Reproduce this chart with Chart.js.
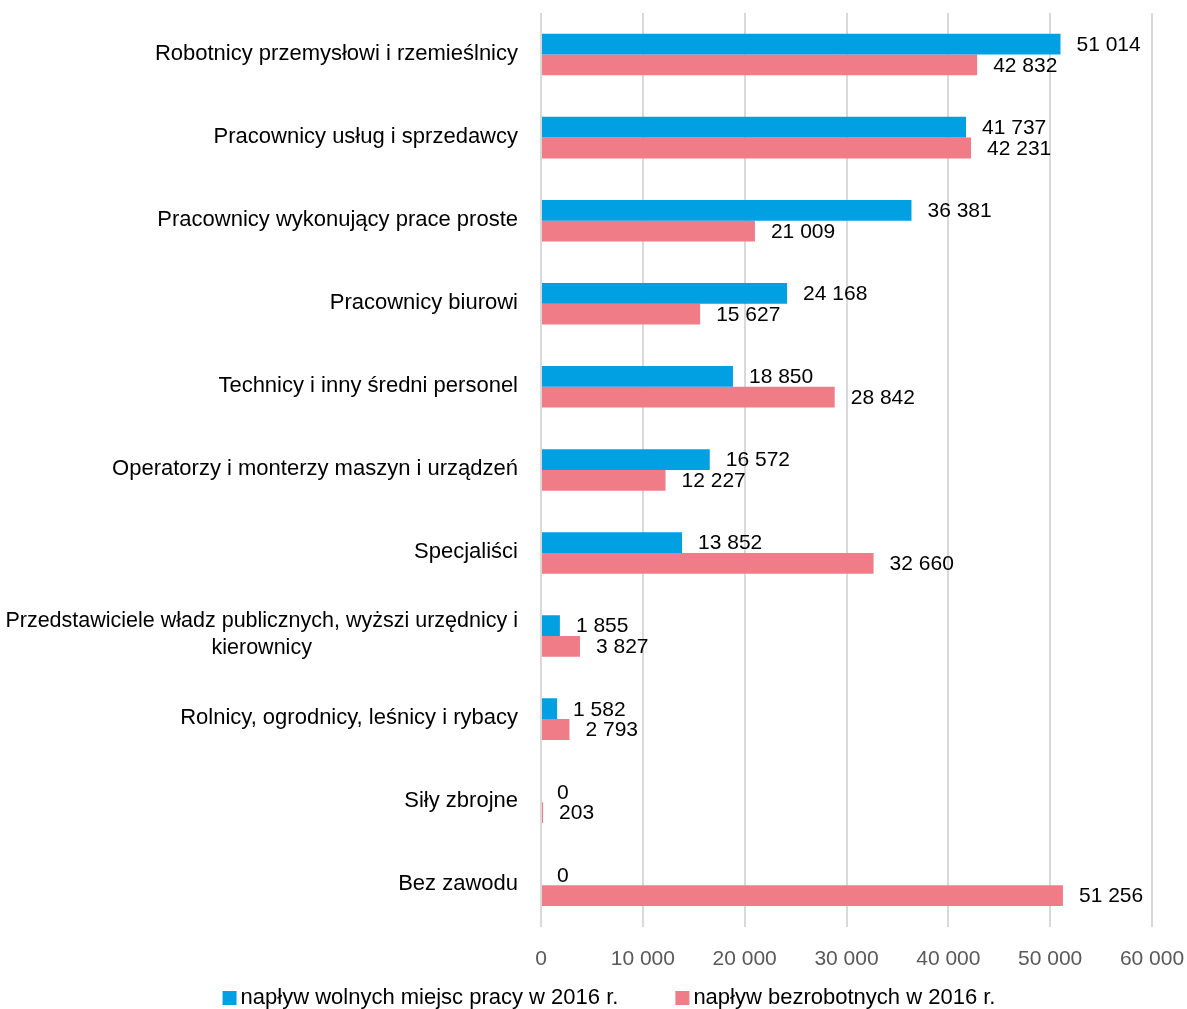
<!DOCTYPE html>
<html>
<head>
<meta charset="utf-8">
<script src="https://cdn.jsdelivr.net/npm/chart.js@4.4.1/dist/chart.umd.min.js"></script>
<style>
  body { margin: 0; background: #fff; }
  #wrap { width: 1187px; height: 1009px; position: relative; }
</style>
</head>
<body>
<div id="wrap"><canvas id="chart"></canvas></div>
<script>
// categories (top to bottom)
const categories = [
  ['Robotnicy przemysłowi i rzemieślnicy'],
  ['Pracownicy usług i sprzedawcy'],
  ['Pracownicy wykonujący prace proste'],
  ['Pracownicy biurowi'],
  ['Technicy i inny średni personel'],
  ['Operatorzy i monterzy maszyn i urządzeń'],
  ['Specjaliści'],
  ['Przedstawiciele władz publicznych, wyższi urzędnicy i', 'kierownicy'],
  ['Rolnicy, ogrodnicy, leśnicy i rybacy'],
  ['Siły zbrojne'],
  ['Bez zawodu']
];

const seriesNames = ['napływ wolnych miejsc pracy w 2016 r.', 'napływ bezrobotnych w 2016 r.'];
const vacancies = [51014, 41737, 36381, 24168, 18850, 16572, 13852, 1855, 1582, 0, 0];
const unemployed = [42832, 42231, 21009, 15627, 28842, 12227, 32660, 3827, 2793, 203, 51256];
const xTicks = [0, 10000, 20000, 30000, 40000, 50000, 60000];

const colors = ['#00A0E2', '#F07C88'];
const FONT = '"Liberation Sans", Arial, sans-serif';

// "51014" -> "51 014"
function fmt(v) {
  return String(v).replace(/\B(?=(\d{3})+(?!\d))/g, ' ');
}

// value labels at the end of every bar
const valueLabels = {
  id: 'valueLabels',
  afterDatasetsDraw(chart) {
    const ctx = chart.ctx;
    ctx.save();
    ctx.font = '21px ' + FONT;
    ctx.fillStyle = '#000';
    ctx.textAlign = 'left';
    ctx.textBaseline = 'middle';
    chart.data.datasets.forEach((ds, di) => {
      chart.getDatasetMeta(di).data.forEach((bar, i) => {
        ctx.fillText(fmt(ds.data[i]), bar.x + 16, bar.y + 1);
      });
    });
    ctx.restore();
  }
};

// category labels, second line centred under the first like in the original
const categoryLabels = {
  id: 'categoryLabels',
  afterDraw(chart) {
    const ctx = chart.ctx;
    const y = chart.scales.y;
    const right = chart.chartArea.left - 23;
    ctx.save();
    ctx.fillStyle = '#000';
    ctx.textBaseline = 'middle';
    categories.forEach((lines, i) => {
      const cy = y.getPixelForValue(i) - 1;
      if (lines.length === 1) {
        ctx.font = '22px ' + FONT;
        ctx.textAlign = 'right';
        ctx.fillText(lines[0], right, cy);
      } else {
        ctx.font = '21.5px ' + FONT;
        const w = Math.max(...lines.map(l => ctx.measureText(l).width));
        const lh = 27;
        ctx.textAlign = 'center';
        lines.forEach((l, k) => {
          ctx.fillText(l, right - w / 2, cy + (k - (lines.length - 1) / 2) * lh);
        });
      }
    });
    ctx.restore();
  }
};

// legend at the bottom
const bottomLegend = {
  id: 'bottomLegend',
  afterDraw(chart) {
    const ctx = chart.ctx;
    ctx.save();
    ctx.font = '22px ' + FONT;
    ctx.textBaseline = 'middle';
    ctx.textAlign = 'left';
    const box = 14, gap = 4, itemGap = 57;
    const widths = chart.data.datasets.map(d => box + gap + ctx.measureText(d.label).width);
    const total = widths.reduce((a, b) => a + b, 0) + itemGap * (widths.length - 1);
    let x = 609 - total / 2;
    const cy = 998;
    chart.data.datasets.forEach((d, i) => {
      ctx.fillStyle = d.backgroundColor;
      ctx.fillRect(x, cy - box / 2, box, box);
      ctx.fillStyle = '#000';
      ctx.fillText(d.label, x + box + gap, cy);
      x += widths[i] + itemGap;
    });
    ctx.restore();
  }
};

new Chart(document.getElementById('chart'), {
  type: 'bar',
  data: {
    labels: categories.map(c => c.join(' ')),
    datasets: [
      { label: seriesNames[0], data: vacancies, backgroundColor: colors[0] },
      { label: seriesNames[1], data: unemployed, backgroundColor: colors[1] }
    ]
  },
  options: {
    indexAxis: 'y',
    responsive: true,
    maintainAspectRatio: false,
    animation: false,
    layout: { padding: { left: 541, right: 35, top: 13, bottom: 17 } },
    datasets: { bar: { categoryPercentage: 0.5, barPercentage: 1.0, borderWidth: 0 } },
    scales: {
      x: {
        min: 0,
        max: 60000,
        afterBuildTicks(scale) { scale.ticks = xTicks.map(v => ({ value: v })); },
        // let the layout padding alone decide where the plot ends
        afterFit(scale) { scale.paddingLeft = 0; scale.paddingRight = 0; },
        grid: { color: '#D9D9D9', lineWidth: 2, drawTicks: false },
        border: { display: false },
        ticks: {
          padding: 20,
          color: '#595959',
          font: { family: FONT, size: 21 },
          callback: v => fmt(v)
        }
      },
      y: { display: false }
    },
    plugins: {
      legend: { display: false },
      tooltip: { enabled: false }
    }
  },
  plugins: [valueLabels, categoryLabels, bottomLegend]
});
</script>
</body>
</html>
